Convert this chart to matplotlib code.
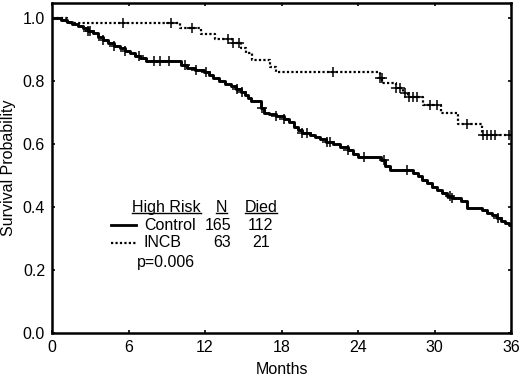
import matplotlib
matplotlib.use('Agg')
import matplotlib.pyplot as plt
import numpy as np

plt.rcParams['font.family'] = ['Liberation Sans', 'DejaVu Sans']

# Control arm: step times (months) and survival after each step
ctrl_t = [0, 0.7, 1.2, 1.6, 2.0, 2.4, 2.8, 3.2, 3.6, 4.0, 4.4, 4.9, 5.3, 5.7, 6.1, 6.5, 6.9, 7.4,
          10.1, 10.6, 11.2, 11.9, 12.3, 12.6, 13.1, 13.6, 14.0, 14.4, 14.8, 15.1, 15.4, 15.6,
          16.4, 16.6, 17.0, 17.6, 18.2, 18.6, 19.0, 19.3, 19.6, 20.2, 20.6, 21.0, 21.5, 22.0,
          22.6, 23.2, 23.6, 24.0, 25.8, 26.1, 26.5, 28.3, 28.7, 29.0, 29.4, 29.8, 30.2, 30.6,
          31.0, 31.4, 32.1, 32.5, 33.7, 34.1, 34.5, 34.9, 35.2, 35.5, 35.8]
ctrl_s = [1.0, 0.994, 0.988, 0.982, 0.975, 0.968, 0.96, 0.952, 0.94, 0.93, 0.92, 0.912, 0.905, 0.897,
          0.89, 0.88, 0.872, 0.863,
          0.852, 0.843, 0.836, 0.828, 0.82, 0.81, 0.80, 0.792, 0.785, 0.776, 0.766, 0.755, 0.745, 0.737,
          0.715, 0.70, 0.695, 0.688, 0.68, 0.67, 0.655, 0.645, 0.635, 0.63, 0.622, 0.615, 0.608, 0.60,
          0.59, 0.582, 0.568, 0.56, 0.548, 0.532, 0.517, 0.508, 0.498, 0.487, 0.475, 0.464, 0.455, 0.445,
          0.435, 0.428, 0.42, 0.398, 0.39, 0.382, 0.374, 0.366, 0.357, 0.35, 0.343]
ctrl_cens = [2.8, 3.0, 4.0, 4.9, 5.7, 6.8, 8.0, 8.5, 9.2, 10.4, 11.3, 12.1, 14.5, 14.9, 16.5,
             17.6, 18.2, 19.6, 20.0, 21.6, 21.8, 23.2, 24.5, 26.0, 27.8, 31.2, 31.4, 35.0]

# INCB arm
incb_t = [0, 1.2, 10.0, 11.7, 12.8, 14.1, 14.8, 15.2, 15.7, 17.1, 17.6, 25.7, 25.9, 27.0, 27.5,
          27.9, 29.1, 30.5, 31.8, 33.7]
incb_s = [1.0, 0.984, 0.97, 0.95, 0.933, 0.92, 0.905, 0.889, 0.867, 0.846, 0.83, 0.81, 0.794,
          0.778, 0.762, 0.75, 0.724, 0.698, 0.663, 0.629]
incb_cens = [5.6, 9.3, 11.0, 13.8, 14.2, 14.7, 22.0, 25.75, 25.85, 27.0, 27.3, 27.7, 28.0, 28.3,
             28.6, 29.6, 30.2, 32.5, 33.8, 34.1, 34.4, 34.7, 35.8]

x_end = 36


def surv_at(times, surv, t):
    idx = np.searchsorted(times, t, side='right') - 1
    return np.array(surv)[idx]


fig = plt.figure(figsize=(5.2, 3.78), dpi=100)
ax = fig.add_axes([0.1, 0.119, 0.883, 0.873])

ax.step(ctrl_t + [x_end], ctrl_s + [ctrl_s[-1]], where='post', color='black', lw=2.1)
ax.step(incb_t + [x_end], incb_s + [incb_s[-1]], where='post', color='black', lw=1.6,
        linestyle=(0, (1, 1)))
ax.plot(ctrl_cens, surv_at(ctrl_t, ctrl_s, ctrl_cens), '+', color='black', ms=7, mew=1.1)
ax.plot(incb_cens, surv_at(incb_t, incb_s, incb_cens), '+', color='black', ms=7, mew=1.1)

ax.set_xlim(0, 36)
ax.set_ylim(0, 1.048)
ax.set_xticks([0, 6, 12, 18, 24, 30, 36])
ax.set_yticks([0.0, 0.2, 0.4, 0.6, 0.8, 1.0])
ax.set_yticklabels(['0.0', '0.2', '0.4', '0.6', '0.8', '1.0'])
ax.tick_params(direction='in', length=2.5, width=1.2, top=True, right=True, labelsize=11.5, pad=5)
for sp in ax.spines.values():
    sp.set_linewidth(1.8)
ax.set_xlabel('Months', fontsize=11.5, labelpad=5)
ax.set_ylabel('Survival Probability', fontsize=11.5, labelpad=5)

# legend table
fs = 11.5
hdr_y, c_y, i_y, p_y = 0.40, 0.343, 0.286, 0.225
t_hr = ax.text(6.27, hdr_y, 'High Risk', fontsize=fs, va='center', ha='left')
t_n = ax.text(13.75, hdr_y, 'N', fontsize=fs, va='center', ha='right')
t_d = ax.text(15.1, hdr_y, 'Died', fontsize=fs, va='center', ha='left')
ax.plot([4.63, 6.59], [c_y, c_y], color='black', lw=2)
ax.plot([4.63, 6.59], [i_y, i_y], color='black', lw=1.6, linestyle=(0, (1, 1)))
ax.text(7.2, c_y, 'Control', fontsize=fs, va='center', ha='left')
ax.text(7.2, i_y, 'INCB', fontsize=fs, va='center', ha='left')
ax.text(14.04, c_y, '165', fontsize=fs, va='center', ha='right')
ax.text(14.04, i_y, '63', fontsize=fs, va='center', ha='right')
ax.text(17.3, c_y, '112', fontsize=fs, va='center', ha='right')
ax.text(17.05, i_y, '21', fontsize=fs, va='center', ha='right')
ax.text(6.67, p_y, 'p=0.006', fontsize=fs, va='center', ha='left')

# underline headers
fig.canvas.draw()
r = fig.canvas.get_renderer()
inv = ax.transData.inverted()
for t in (t_hr, t_n, t_d):
    bb = t.get_window_extent(renderer=r)
    (x0, y0), (x1, y1) = inv.transform([(bb.x0, bb.y0), (bb.x1, bb.y1)])
    ax.plot([x0, x1], [y0 + 0.004, y0 + 0.004], color='black', lw=1)

fig.savefig('out.png', dpi=100)
